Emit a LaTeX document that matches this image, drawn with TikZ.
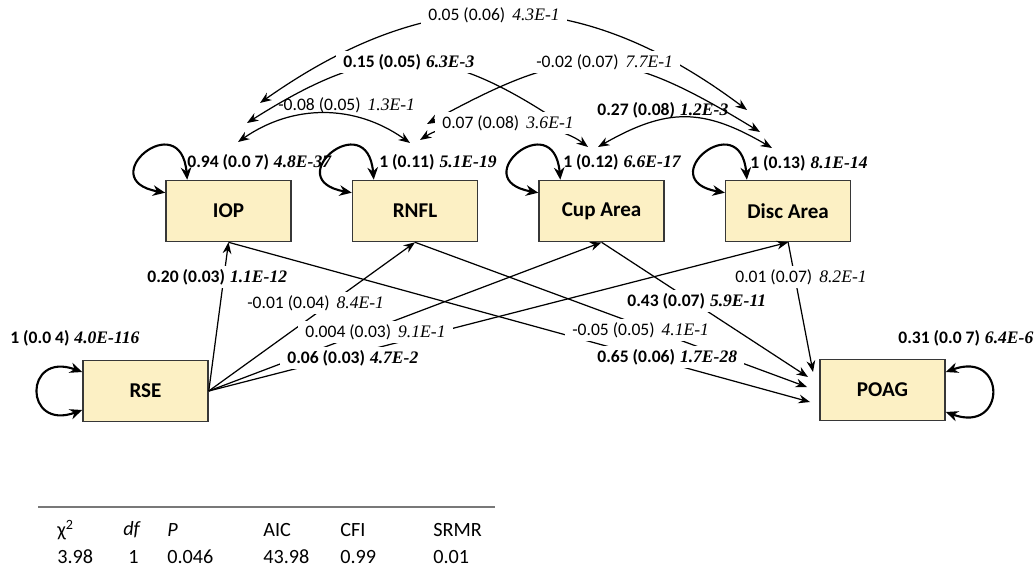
\documentclass[tikz,border=0pt]{standalone}
\usepackage{fontspec}
\setmainfont{Carlito}
\newfontfamily\pfont{Liberation Serif}
\usetikzlibrary{positioning, arrows.meta}

\definecolor{boxfill}{RGB}{252,240,196}
\definecolor{boxline}{RGB}{55,55,55}
\definecolor{rulegray}{RGB}{120,120,120}

% estimate (SE) p-value
\newcommand{\est}[2]{#1\hspace{0.4em}{\pfont\itshape #2}}
\newcommand{\sig}[2]{\textbf{#1}\hspace{0.28em}{\pfont\bfseries\itshape #2}}

\begin{document}
\begin{tikzpicture}[
        x=0.02cm, y=-0.02cm,
        node distance=1.2cm,
        var/.style={
          rectangle,
          draw=boxline,
          line width=0.9pt,
          fill=boxfill,
          minimum width=2.5cm,
          minimum height=1.22cm,
          inner sep=0pt,
          font=\fontsize{12}{14}\selectfont\bfseries
        },
        regr/.style={
          -{Stealth[length=6.5pt, width=5pt]},
          line width=0.7pt
        },
        cov/.style={
          {Stealth[length=6.5pt, width=5pt]}-{Stealth[length=6.5pt, width=5pt]},
          line width=0.7pt
        },
        selfloop/.style={
          {Stealth[length=7pt, width=6pt]}-{Stealth[length=7pt, width=6pt]},
          line width=1.2pt
        },
        coef/.style={
          font=\fontsize{10}{12}\selectfont,
          anchor=west,
          inner sep=0pt
        },
        lbl/.style={
          coef,
          fill=white,
          inner xsep=4pt,
          inner ysep=2pt,
          xshift=-4pt
        },
        tabtext/.style={
          font=\fontsize{11.5}{13}\selectfont,
          anchor=west,
          inner sep=0pt
        }
      ]

      \useasboundingbox (0,0) rectangle (1034,571);

      % Variables
      \node [var] (iop) at (228.5,211) {IOP};
      \node [var, right=of iop] (rnfl) {RNFL};
      \node [var, right=of rnfl] (cup) {Cup Area};
      \node [var, right=of cup] (disc) {Disc Area};
      \node [var] (rse) at (145.5,391) {RSE};
      \node [var] (poag) at (882.5,390) {POAG};

      % Free ends of the covariance arcs
      \coordinate (iopc1) at (260,103);
      \coordinate (iopc2) at (247,123);
      \coordinate (iopc3) at (238,142);
      \coordinate (rnflc1) at (427,124);
      \coordinate (rnflc2) at (420,140);
      \coordinate (rnflc3) at (410,143);
      \coordinate (cupc1) at (567,127);
      \coordinate (cupc2) at (588,147);
      \coordinate (cupc3) at (598,147);
      \coordinate (discc1) at (747,110);
      \coordinate (discc2) at (760,132);
      \coordinate (discc3) at (772,148);
      % Free ends at POAG
      \coordinate (pa) at (813,372);
      \coordinate (pb) at (808,377);
      \coordinate (pc) at (807,387);
      \coordinate (pd) at (810,402);

      % Variances
      \draw [selfloop] ([yshift=-0.26cm]iop.north west) .. controls +(170:1.5cm) and +(95:1.5cm) .. ([xshift=0.44cm]iop.north west);
      \draw [selfloop] ([yshift=-0.26cm]rnfl.north west) .. controls +(170:1.5cm) and +(95:1.5cm) .. ([xshift=0.44cm]rnfl.north west);
      \draw [selfloop] ([yshift=-0.26cm]cup.north west) .. controls +(170:1.5cm) and +(95:1.5cm) .. ([xshift=0.44cm]cup.north west);
      \draw [selfloop] ([yshift=-0.26cm]disc.north west) .. controls +(170:1.5cm) and +(95:1.5cm) .. ([xshift=0.44cm]disc.north west);
      \draw [selfloop] ([yshift=0.38cm]rse.west) .. controls +(160:1.25cm) and +(200:1.25cm) .. ([yshift=-0.38cm]rse.west);
      \draw [selfloop] ([yshift=0.36cm]poag.east) .. controls +(20:1.3cm) and +(-20:1.3cm) .. ([yshift=-0.44cm]poag.east);

      % Covariances
      \draw [cov] (iopc1) to[bend left=36, looseness=1.1] (discc1);
      \draw [cov] (iopc2) to[bend left=33, looseness=1.23] (cupc1);
      \draw [cov] (rnflc1) to[bend left=30, looseness=1.3] (discc2);
      \draw [cov] (iopc3) to[bend left=35] (rnflc3);
      \draw [cov] (rnflc2) to[bend left=35, looseness=0.7] (cupc2);
      \draw [cov] (cupc3) to[bend left=30, looseness=1.17] (discc3);

      % Paths
      \draw [regr] (rse.east) -- (iop.south);
      \draw [regr] (rse.east) -- (rnfl.south);
      \draw [regr] (rse.east) -- (cup.south);
      \draw [regr] (rse.east) -- (disc.south);
      \draw [regr] (iop.south) -- (pd);
      \draw [regr] (rnfl.south) -- (pc);
      \draw [regr] (cup.south) -- (pb);
      \draw [regr] (disc.south) -- (pa);

      % Covariance labels
      \node [lbl] at (428,15) {\est{0.05 (0.06)}{4.3E-1}};
      \node [lbl] at (343,62) {\sig{0.15 (0.05)}{6.3E-3}};
      \node [lbl] at (536,62) {\est{-0.02 (0.07)}{7.7E-1}};
      \node [coef] at (278,105) {\est{-0.08 (0.05)}{1.3E-1}};
      \node [lbl] at (442,123) {\est{0.07 (0.08)}{3.6E-1}};
      \node [coef] at (597,110) {\sig{0.27 (0.08)}{1.2E-3}};

      % Variance labels
      \node [coef] at (187,162) {\sig{0.94 (0.0 7)}{4.8E-37}};
      \node [coef] at (379,162) {\sig{1 (0.11)}{5.1E-19}};
      \node [coef] at (563,162) {\sig{1 (0.12)}{6.6E-17}};
      \node [coef] at (750,163) {\sig{1 (0.13)}{8.1E-14}};
      \node [coef] at (10,338) {\sig{1 (0.0 4)}{4.0E-116}};
      \node [coef] at (898,338) {\sig{0.31 (0.0 7)}{6.4E-6}};

      % Path labels
      \node [lbl] at (147,277) {\sig{0.20 (0.03)}{1.1E-12}};
      \node [lbl] at (247,303) {\est{-0.01 (0.04)}{8.4E-1}};
      \node [lbl] at (305,332) {\est{0.004 (0.03)}{9.1E-1}};
      \node [lbl] at (287,358) {\sig{0.06 (0.03)}{4.7E-2}};
      \node [lbl] at (572,330) {\est{-0.05 (0.05)}{4.1E-1}};
      \node [lbl] at (597,357) {\sig{0.65 (0.06)}{1.7E-28}};
      \node [lbl] at (627,301) {\sig{0.43 (0.07)}{5.9E-11}};
      \node [lbl] at (735,277) {\est{0.01 (0.07)}{8.2E-1}};

      % Fit table
      \draw [rulegray, line width=0.8pt] (38,507) -- (495,507);
      \node [tabtext] (h1) at (57,530) {χ\textsuperscript{2}};
      \node [tabtext] (h2) at (123,530) {\textit{df}};
      \node [tabtext] (h3) at (167,530) {\textit{P}};
      \node [tabtext] (h4) at (263,530) {AIC};
      \node [tabtext] (h5) at (340,530) {CFI};
      \node [tabtext] (h6) at (433,530) {SRMR};
      \node [tabtext] (v1) at (57,557) {3.98};
      \node [tabtext] (v2) at (128,557) {1};
      \node [tabtext] (v3) at (167,557) {0.046};
      \node [tabtext] (v4) at (263,557) {43.98};
      \node [tabtext] (v5) at (340,557) {0.99};
      \node [tabtext] (v6) at (433,557) {0.01};

    \end{tikzpicture}
\end{document}
